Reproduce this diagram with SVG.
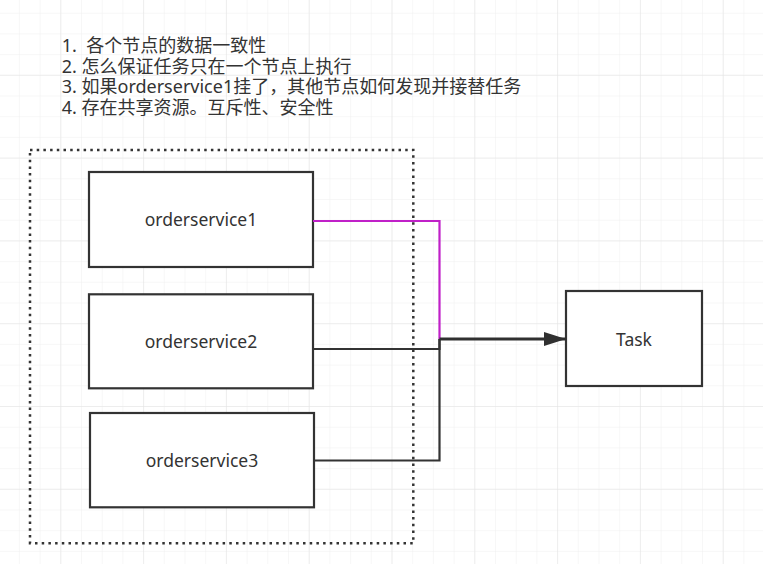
<svg xmlns="http://www.w3.org/2000/svg" width="763" height="564" viewBox="0 0 763 564">
<defs>
<pattern id="minor" patternUnits="userSpaceOnUse" x="18.9" y="12.7" width="20.7" height="20.7">
<path d="M0 0 H20.7 M0 0 V20.7" fill="none" stroke="#f0f0f0" stroke-width="1"/>
</pattern>
<pattern id="major" patternUnits="userSpaceOnUse" x="60.3" y="74.8" width="82.8" height="82.8">
<path d="M0 0 H82.8 M0 0 V82.8" fill="none" stroke="#e3e3e3" stroke-width="1"/>
</pattern>
<marker id="arrow" markerUnits="userSpaceOnUse" markerWidth="24" markerHeight="16" refX="22" refY="7" orient="auto">
<path d="M0 0 L22 7 L0 14 Z" fill="#303030"/>
</marker>
<style>
.box{fill:#fff;stroke:#333;stroke-width:2.2}
.lbl{font-family:"Noto Sans","Noto Sans CJK SC",sans-serif;font-size:17.5px;fill:#333;text-anchor:middle}
.note{font-family:"Noto Sans","Noto Sans CJK SC",sans-serif;font-size:18px;fill:#333;white-space:pre}
.edge{fill:none;stroke:#333;stroke-width:2.2}
</style>
</defs>
<rect width="763" height="564" fill="#fff"/>
<rect width="763" height="564" fill="url(#minor)"/>
<rect width="763" height="564" fill="url(#major)"/>

<g id="notes">
<text class="note" x="61.7" y="51.7" xml:space="preserve">1.  各个节点的数据一致性</text>
<text class="note" x="61.7" y="72.5" xml:space="preserve">2. 怎么保证任务只在一个节点上执行</text>
<text class="note" x="61.7" y="93.3" xml:space="preserve">3. 如果orderservice1挂了，其他节点如何发现并接替任务</text>
<text class="note" x="61.7" y="114" xml:space="preserve">4. 存在共享资源。互斥性、安全性</text>
</g>

<g id="cluster">
<rect x="30" y="150" width="383.3" height="393.3" fill="none" stroke="#333" stroke-width="2.5" stroke-dasharray="2.5 4.2"/>
</g>

<g id="orderservice1">
<rect class="box" x="89" y="172" width="224" height="95"/>
<text class="lbl" x="201" y="226">orderservice1</text>
</g>
<g id="orderservice2">
<rect class="box" x="89" y="294.3" width="224" height="94"/>
<text class="lbl" x="201" y="348.3">orderservice2</text>
</g>
<g id="orderservice3">
<rect class="box" x="90" y="413" width="224" height="94.3"/>
<text class="lbl" x="202" y="467.3">orderservice3</text>
</g>
<g id="task">
<rect class="box" x="566" y="291" width="136" height="95"/>
<text class="lbl" x="634" y="345.7">Task</text>
</g>

<g id="connectors">
<path class="edge" d="M313 349 H439.5 V339"/>
<path class="edge" d="M314 460.5 H439.5 V339"/>
<path d="M313 221 H439.5 V339" fill="none" stroke="#c020c8" stroke-width="2.2"/>
<path d="M439.5 339 H566" fill="none" stroke="#303030" stroke-width="3" marker-end="url(#arrow)"/>
</g>
</svg>
